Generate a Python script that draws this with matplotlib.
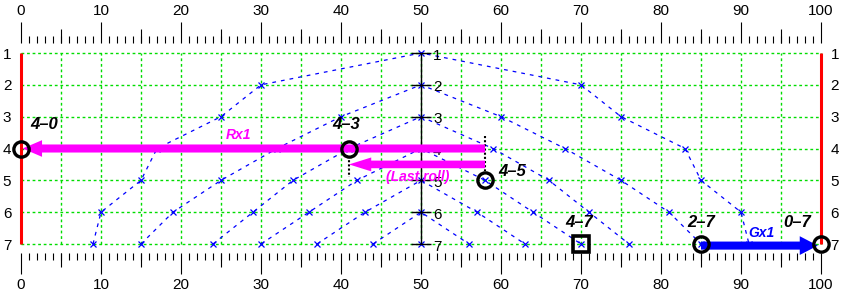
import matplotlib
matplotlib.use('Agg')
import matplotlib.pyplot as plt
from matplotlib.patches import FancyArrowPatch

plt.rcParams['font.family'] = ['Liberation Sans', 'DejaVu Sans']

# levels on the vertical scale (1 at the top)
levels = [1, 2, 3, 4, 5, 6, 7]

# blue arcs, one per peak level
arc1_x = [9, 10, 15, 17, 25, 30, 50, 70, 75, 83, 85, 90, 91]
arc1_y = [7, 6, 5, 4, 3, 2, 1, 2, 3, 4, 5, 6, 7]
arc2_x = [15, 19, 25, 32, 40, 50, 60, 68, 75, 81, 85]
arc2_y = [7, 6, 5, 4, 3, 2, 3, 4, 5, 6, 7]
arc3_x = [24, 29, 34, 41, 50, 59, 66, 71, 76]
arc3_y = [7, 6, 5, 4, 3, 4, 5, 6, 7]
arc4_x = [30, 36, 42, 50, 58, 64, 70]
arc4_y = [7, 6, 5, 4, 5, 6, 7]
arc5_x = [37, 43, 50, 57, 63]
arc5_y = [7, 6, 5, 6, 7]
arc6_x = [44, 50, 56]
arc6_y = [7, 6, 7]
arc7_x = [50]
arc7_y = [7]

# score positions
circle_x = [0, 41, 58, 85, 100]
circle_y = [4, 4, 5, 7, 7]
square_x = [70]
square_y = [7]

# text labels
score_labels = ['4–0', '4–3', '4–5', '4–7', '2–7', '0–7']
score_x = [1.1, 40.7, 59.6, 69.8, 85, 97]
score_y = [3.26, 3.26, 4.73, 6.34, 6.34, 6.34]
score_ha = ['left', 'center', 'left', 'center', 'center', 'center']

# arrows (tail, tip)
rx_arrow = [(58, 4), (0.2, 4)]
last_arrow = [(58, 4.5), (41, 4.5)]
gx_arrow = [(85, 7.05), (99.6, 7.05)]

edge_x = [0, 100]

fig = plt.figure(figsize=(8.44, 2.99), dpi=100)
ax = fig.add_axes([21/844, 55/299, 800/844, 191/299])
ax.set_xlim(0, 100)
ax.set_ylim(7, 1)

# grid
ax.set_xticks(range(0, 101, 5))
ax.set_yticks(levels)
ax.grid(color='#00dd00', ls=(0, (2, 2)), lw=1, zorder=0)
ax.set_axisbelow(True)
ax.tick_params(axis='x', length=0, labelbottom=False)
ax.tick_params(axis='y', length=0, labelleft=True, labelright=True, pad=7, labelsize=11)
for gl in ax.get_xgridlines() + ax.get_ygridlines():
    gl.set_clip_on(False)
for s in ax.spines.values():
    s.set_visible(False)

# top and bottom rulers
for loc in [1 + 10/191, -9/191]:
    sec = ax.secondary_xaxis(loc)
    sec.set_xticks(range(0, 101, 10))
    sec.set_xticks(range(0, 101), minor=True)
    sec.tick_params(which='major', length=15, width=0.8, labelsize=11, pad=3)
    sec.tick_params(which='minor', length=5, width=0.8)
    mid = ax.secondary_xaxis(loc)
    mid.set_xticks(range(5, 100, 10))
    mid.tick_params(length=10, width=0.8, labeltop=False, labelbottom=False)
    for a in (sec, mid):
        for s in a.spines.values():
            s.set_visible(False)

# red side bars
ax.vlines(edge_x, levels[0], levels[-1], color='red', lw=2.2, zorder=2, clip_on=False)

# arcs
for xs, ys in [(arc1_x, arc1_y), (arc2_x, arc2_y), (arc3_x, arc3_y), (arc4_x, arc4_y),
               (arc5_x, arc5_y), (arc6_x, arc6_y), (arc7_x, arc7_y)]:
    ax.plot(xs, ys, color='blue', ls=(0, (3, 4)), lw=0.9, marker='x', ms=5, mew=0.9,
            zorder=3, clip_on=False)

# center scale
ax.vlines(50, levels[0], levels[-1], color='black', lw=1, zorder=4, clip_on=False)
ax.hlines(levels, 48.8, 51.3, color='black', lw=1, zorder=4, clip_on=False)
for k in levels:
    ax.text(51.5, k + 0.08, str(k), fontsize=11, ha='left', va='center', zorder=4)

# dotted guides
ax.vlines([41], 4.25, 4.9, color='black', ls=(0, (1, 1)), lw=1.5, zorder=4)
ax.vlines([58], 3.6, 4.7, color='black', ls=(0, (1, 1)), lw=1.5, zorder=4)

# arrows
arrows = [(rx_arrow, 'magenta', 'simple,head_length=14,head_width=12,tail_width=5.8'),
          (last_arrow, 'magenta', 'simple,head_length=16,head_width=10,tail_width=5.5'),
          (gx_arrow, 'blue', 'simple,head_length=13,head_width=13.5,tail_width=5.8')]
for (tail, tip), col, style in arrows:
    ax.add_patch(FancyArrowPatch(tail, tip, arrowstyle=style, mutation_scale=1,
                                 color=col, lw=0, shrinkA=0, shrinkB=0,
                                 zorder=5, clip_on=False))

ax.text(27.2, 3.58, 'Rx1', color='magenta', fontsize=10, fontstyle='italic',
        fontweight='bold', ha='center', va='center', zorder=6)
ax.text(49.6, 4.9, '(Last roll)', color='magenta', fontsize=10, fontstyle='italic',
        fontweight='bold', ha='center', va='center', zorder=6)
ax.text(92.6, 6.65, 'Gx1', color='blue', fontsize=10, fontstyle='italic',
        fontweight='bold', ha='center', va='center', zorder=6)

# markers
ax.plot(circle_x, circle_y, 'o', mfc='none', mec='black', ms=11, mew=2.4,
        clip_on=False, zorder=7)
ax.plot(square_x, square_y, 's', mfc='none', mec='black', ms=12, mew=2.6,
        clip_on=False, zorder=7)

for lbl, x, y, ha in zip(score_labels, score_x, score_y, score_ha):
    ax.text(x, y, lbl, fontsize=12, fontstyle='italic', fontweight='bold',
            ha=ha, va='center', zorder=8)

fig.savefig('out.png', dpi=100)
